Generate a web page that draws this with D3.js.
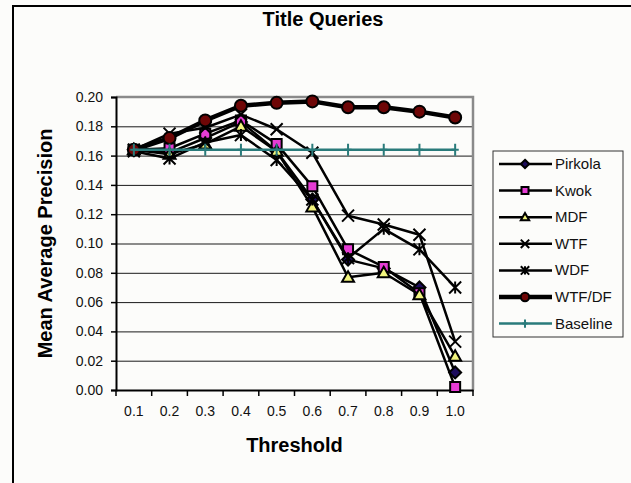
<!DOCTYPE html>
<html lang='en'>
  <head>
    <meta charset='utf-8'>
    <script type='text/javascript' src='https://cdnjs.cloudflare.com/ajax/libs/d3/7.8.5/d3.min.js'></script>
    <style>
      body { margin: 0; background: #fcfcfa; }
      svg { display: block; font-family: 'Liberation Sans', Arial, sans-serif; }
    </style>
  </head>
  <body>
    <div id='chart'></div>
    <script type='text/javascript'>

      // data
      var thresholds = ['0.1', '0.2', '0.3', '0.4', '0.5', '0.6', '0.7', '0.8', '0.9', '1.0'];
      var pirkola  = [0.164, 0.162, 0.172, 0.183, 0.163, 0.130, 0.089, 0.083, 0.070, 0.012];
      var kwok     = [0.164, 0.165, 0.175, 0.184, 0.168, 0.139, 0.096, 0.084, 0.066, 0.002];
      var mdf      = [0.164, 0.161, 0.168, 0.180, 0.163, 0.125, 0.077, 0.080, 0.065, 0.023];
      var wtf      = [0.164, 0.175, 0.179, 0.188, 0.178, 0.162, 0.119, 0.113, 0.106, 0.033];
      var wdf      = [0.163, 0.158, 0.169, 0.174, 0.157, 0.130, 0.090, 0.110, 0.096, 0.070];
      var wtfdf    = [0.164, 0.172, 0.184, 0.194, 0.196, 0.197, 0.193, 0.193, 0.190, 0.186];
      var baseline = [0.164, 0.164, 0.164, 0.164, 0.164, 0.164, 0.164, 0.164, 0.164, 0.164];
      var yTicks = [0, 0.02, 0.04, 0.06, 0.08, 0.10, 0.12, 0.14, 0.16, 0.18, 0.20];

      var seriesNames = ['Pirkola', 'Kwok', 'MDF', 'WTF', 'WDF', 'WTF/DF', 'Baseline'];
      var seriesValues = [pirkola, kwok, mdf, wtf, wdf, wtfdf, baseline];

      // look of each series
      var styles = {
        'Pirkola':  {line: '#000', width: 2.5, marker: 'diamond', fill: '#1c0c5c', size: 12},
        'Kwok':     {line: '#000', width: 2.5, marker: 'square', fill: '#e63cd4', size: 10},
        'MDF':      {line: '#000', width: 2.5, marker: 'triangle', fill: '#f2f57e', size: 12},
        'WTF':      {line: '#000', width: 2.5, marker: 'x', fill: 'none', size: 12},
        'WDF':      {line: '#000', width: 2.5, marker: 'star', fill: 'none', size: 12},
        'WTF/DF':   {line: '#000', width: 4.5, marker: 'circle', fill: '#6e0606', size: 12},
        'Baseline': {line: '#2a7b7b', width: 2.5, marker: 'plus', fill: 'none', size: 12}
      };

      var svgWidth = 631;
      var svgHeight = 483;

      var plotLeft = 116;
      var plotRight = 473;
      var plotTop = 97;
      var plotBottom = 390;

      var svg = d3.select('#chart').append('svg')
                  .attr('width', svgWidth)
                  .attr('height', svgHeight);

      // outer chart frame (only left and top edges show)
      svg.append('rect')
         .attr('x', 13).attr('y', 6)
         .attr('width', svgWidth + 20).attr('height', svgHeight + 20)
         .attr('fill', '#fcfcfa')
         .attr('stroke', '#000')
         .attr('stroke-width', 2);

      // scales
      var xScale = d3.scaleBand()
                     .domain(thresholds)
                     .range([plotLeft, plotRight]);

      var yScale = d3.scaleLinear()
                     .domain([0, 0.2])
                     .range([plotBottom, plotTop]);

      function cx(i) { return xScale(thresholds[i]) + xScale.bandwidth() / 2; }

      // gridlines
      svg.append('g')
         .attr('class', 'grid')
         .attr('transform', 'translate(' + plotLeft + ',0)')
         .call(d3.axisLeft(yScale).tickValues(yTicks.slice(1, -1))
               .tickSize(-(plotRight - plotLeft)).tickFormat(''))
         .call(function(g){ g.select('.domain').remove(); })
         .selectAll('line')
            .attr('stroke', '#1a1a1a')
            .attr('stroke-width', 1);

      // plot border on top and right
      svg.append('path')
         .attr('d', 'M' + plotLeft + ',' + plotTop + 'H' + plotRight + 'V' + plotBottom)
         .attr('fill', 'none')
         .attr('stroke', '#8a8a8a')
         .attr('stroke-width', 2.5);

      // axes
      var yAxis = svg.append('g')
         .attr('transform', 'translate(' + plotLeft + ',0)')
         .call(d3.axisLeft(yScale).tickValues(yTicks).tickSize(5).tickPadding(8)
               .tickFormat(d3.format('.2f')));

      var xAxis = svg.append('g')
         .attr('transform', 'translate(0,' + plotBottom + ')')
         .call(d3.axisBottom(xScale).tickSize(0).tickPadding(16));

      // x ticks sit between categories
      var xEdges = thresholds.map(function(d){ return xScale(d); }).concat([plotRight]);
      xAxis.selectAll('.edge').data(xEdges).enter().append('line')
           .attr('x1', function(d){ return d; })
           .attr('x2', function(d){ return d; })
           .attr('y1', 0).attr('y2', 6)
           .attr('stroke', '#000')
           .attr('stroke-width', 1.5);

      [yAxis, xAxis].forEach(function(g){
        g.select('.domain').attr('stroke', '#000').attr('stroke-width', 2);
        g.selectAll('.tick line').attr('stroke', '#000').attr('stroke-width', 1.5);
        g.selectAll('text')
         .attr('fill', '#111')
         .style('font-family', "'Liberation Sans', Arial, sans-serif")
         .style('font-size', '14px');
      });

      // marker shapes, s is the overall size in px
      function markerPath(type, s) {
        var h = s / 2;
        if (type === 'x') {
          return 'M' + (-h) + ',' + (-h) + 'L' + h + ',' + h + 'M' + (-h) + ',' + h + 'L' + h + ',' + (-h);
        }
        if (type === 'star') {
          return 'M' + (-h) + ',' + (-h) + 'L' + h + ',' + h + 'M' + (-h) + ',' + h + 'L' + h + ',' + (-h) +
                 'M0,' + (-h) + 'L0,' + h;
        }
        if (type === 'plus') {
          return 'M0,' + (-h) + 'L0,' + h + 'M' + (-h * 0.6) + ',0L' + (h * 0.6) + ',0';
        }
        if (type === 'square') {
          return 'M' + (-h) + ',' + (-h) + 'H' + h + 'V' + h + 'H' + (-h) + 'Z';
        }
        if (type === 'diamond') {
          return 'M0,' + (-h) + 'L' + h + ',0L0,' + h + 'L' + (-h) + ',0Z';
        }
        if (type === 'triangle') {
          return 'M0,' + (-h) + 'L' + h + ',' + (h * 0.75) + 'L' + (-h) + ',' + (h * 0.75) + 'Z';
        }
        return d3.symbol().type(d3.symbolCircle).size(Math.PI * h * h)();
      }

      function drawMarker(g, name, x, y, s) {
        var st = styles[name];
        var open = (st.marker === 'x' || st.marker === 'star' || st.marker === 'plus');
        g.append('path')
         .attr('d', markerPath(st.marker, s))
         .attr('transform', 'translate(' + x + ',' + y + ')')
         .attr('fill', open ? 'none' : st.fill)
         .attr('stroke', st.marker === 'plus' ? st.line : '#000')
         .attr('stroke-width', open ? 2 : 2)
         .attr('stroke-linejoin', 'miter');
      }

      // series lines and markers
      var line = d3.line()
                   .x(function(d, i){ return cx(i); })
                   .y(function(d){ return yScale(d); });

      seriesNames.forEach(function(name, k){
        var values = seriesValues[k];
        var st = styles[name];
        var g = svg.append('g').attr('class', 'series');
        g.append('path')
         .datum(values)
         .attr('d', line)
         .attr('fill', 'none')
         .attr('stroke', st.line)
         .attr('stroke-width', st.width)
         .attr('stroke-linejoin', 'round');
        values.forEach(function(v, i){
          drawMarker(g, name, cx(i), yScale(v), st.size);
        });
      });

      // legend
      var legend = svg.append('g').attr('class', 'legend');
      legend.append('rect')
            .attr('x', 493).attr('y', 151)
            .attr('width', 130).attr('height', 186)
            .attr('fill', '#fcfcfa')
            .attr('stroke', '#333')
            .attr('stroke-width', 1);

      seriesNames.forEach(function(name, k){
        var st = styles[name];
        var ly = 164 + k * 26.6;
        legend.append('line')
              .attr('x1', 499).attr('x2', 552)
              .attr('y1', ly).attr('y2', ly)
              .attr('stroke', st.line)
              .attr('stroke-width', st.width);
        drawMarker(legend, name, 525, ly, st.size * 0.7);
        legend.append('text')
              .text(name)
              .attr('x', 555)
              .attr('y', ly + 5)
              .style('font-size', '15px')
              .attr('fill', '#111');
      });

      // titles
      svg.append('text')
         .text('Title Queries')
         .attr('x', 323)
         .attr('y', 26)
         .attr('text-anchor', 'middle')
         .style('font-size', '20px')
         .style('font-weight', 'bold');

      svg.append('text')
         .text('Threshold')
         .attr('x', (plotLeft + plotRight) / 2)
         .attr('y', 452)
         .attr('text-anchor', 'middle')
         .style('font-size', '20px')
         .style('font-weight', 'bold');

      svg.append('text')
         .text('Mean Average Precision')
         .attr('transform', 'translate(52,' + (plotTop + plotBottom) / 2 + ') rotate(-90)')
         .attr('text-anchor', 'middle')
         .style('font-size', '20px')
         .style('font-weight', 'bold');

    </script>
  </body>
</html>
